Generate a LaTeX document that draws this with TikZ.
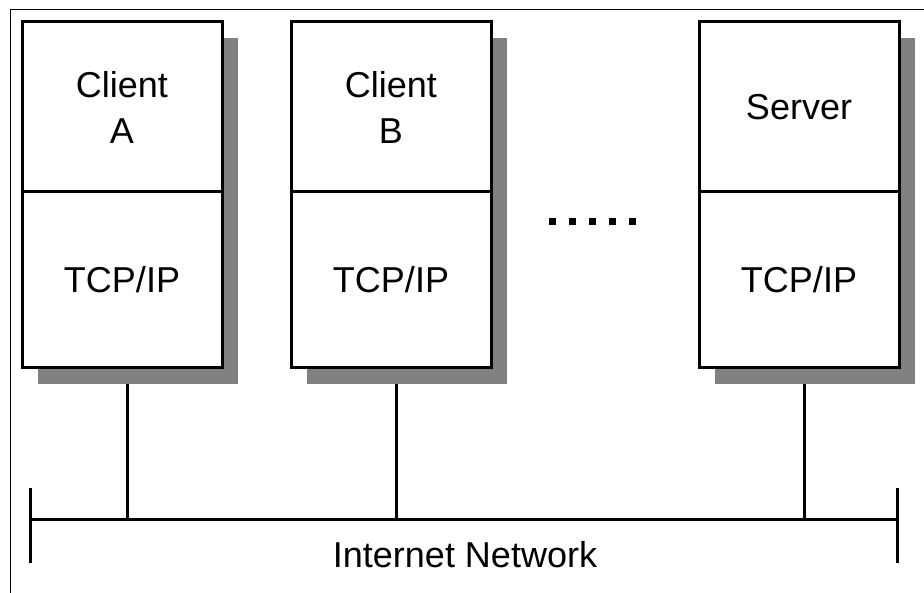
\documentclass[tikz,border=0pt]{standalone}
\usepackage{fontspec}
\setmainfont{Liberation Sans}
\usetikzlibrary{positioning,backgrounds}
\definecolor{shadegray}{RGB}{128,128,128}

\begin{document}
\begin{tikzpicture}[x=1pt,y=-1pt,
every node/.style={font=\fontsize{36}{46}\selectfont},
layer/.style={draw,line width=3pt,fill=white,outer sep=0pt,minimum width=200pt,align=center},
apptop/.style={layer,minimum height=170pt},
stack/.style={layer,minimum height=176pt},
link/.style={line width=3pt},
boxshade/.style={fill=shadegray}]
\useasboundingbox (0,0) rectangle (924,593);
\draw[line width=1pt] (10,593) -- (10,10) -- (924,10);
\node[apptop] (ca) at (122,107) {Client\\A};
\node[stack,below=0pt of ca] (ta) {TCP/IP};
\node[apptop] (cb) at (391,107) {Client\\B};
\node[stack,below=0pt of cb] (tb) {TCP/IP};
\node[apptop] (sv) at (799,107) {Server};
\node[stack,below=0pt of sv] (ts) {TCP/IP};
\begin{scope}[on background layer]
\foreach \t/\b in {ca/ta,cb/tb,sv/ts}
\fill[boxshade] ([shift={(16,16)}]\t.north west) rectangle ([shift={(16,16)}]\b.south east);
\end{scope}
\foreach \i in {0,...,4}
\fill (549+20*\i,218) rectangle ++(7,7);
\coordinate (busL) at (30,519);
\coordinate (busR) at (897,519);
\draw[link] (busL) -- (busR);
\draw[link] ([yshift=-44]busL) -- ([yshift=31]busL);
\draw[link] ([yshift=-44]busR) -- ([yshift=31]busR);
\foreach \b in {ta,tb,ts}
\draw[link] ([shift={(5,16)}]\b.south) -- ([xshift=5]\b.south |- busL);
\node (net) at (465,555) {Internet Network};
\end{tikzpicture}
\end{document}
